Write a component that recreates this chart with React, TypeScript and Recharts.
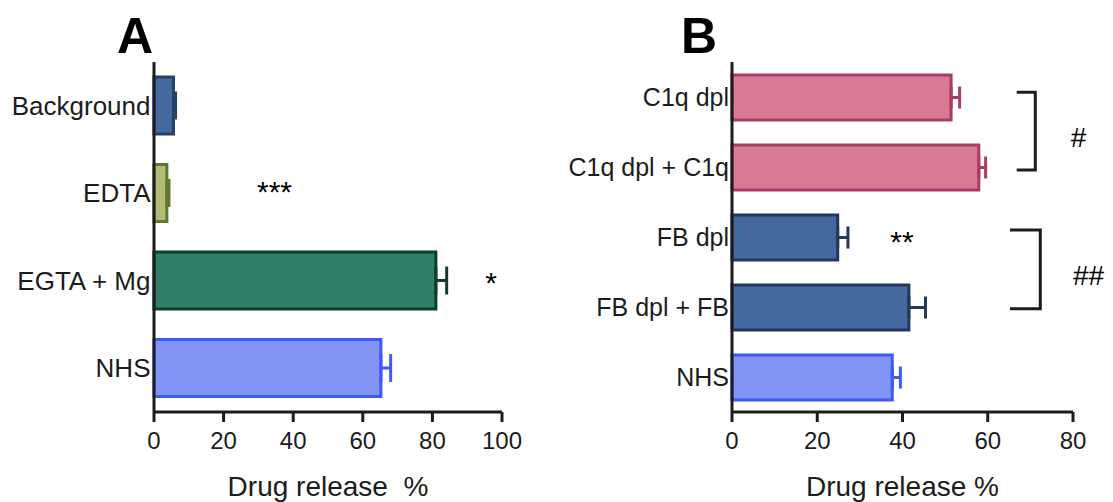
import { BarChart, Bar, XAxis, YAxis, Cell, ErrorBar, Label } from "recharts";

// Panel A
const catsA = ["Background", "EDTA", "EGTA + Mg", "NHS"];
const releaseA = [5.6, 3.7, 81.0, 65.2];
const semA = [0.6, 0.6, 3.1, 2.8];
const ticksA = [0, 20, 40, 60, 80, 100];

// Panel B
const catsB = ["C1q dpl", "C1q dpl + C1q", "FB dpl", "FB dpl + FB", "NHS"];
const releaseB = [51.4, 57.9, 24.8, 41.5, 37.6];
const semB = [2.0, 1.6, 2.4, 3.9, 1.9];
const ticksB = [0, 20, 40, 60, 80];

const fillsA = ["#44699e", "#b3bb74", "#2e8068", "#8193f5"];
const strokesA = ["#25406a", "#5c7a2c", "#0f3d2e", "#3d5af1"];
const fillsB = ["#d87a94", "#d87a94", "#44699e", "#44699e", "#8193f5"];
const strokesB = ["#a63d62", "#a63d62", "#22395d", "#22395d", "#3d5af1"];

const INK = "#1c1c1c";
const FONT = "'Liberation Sans', Arial, sans-serif";

function buildRows(cats: string[], values: number[], errs: number[]) {
  return cats.map((name, i) => ({
    name,
    value: values[i],
    [`err${i}`]: [0, errs[i]],
  }));
}

interface PanelProps {
  cats: string[];
  values: number[];
  errs: number[];
  ticks: number[];
  fills: string[];
  strokes: string[];
  left: number;
  width: number;
  yWidth: number;
  marginRight: number;
  barSize: number;
  capHalf: number;
  catSize: number;
  catMargin: number;
  axisLabel: string;
}

function Panel(p: PanelProps) {
  const data = buildRows(p.cats, p.values, p.errs);
  return (
    <div style={{ position: "absolute", left: p.left, top: 0 }}>
      <BarChart
        width={p.width}
        height={502}
        data={data}
        layout="vertical"
        margin={{ top: 62, right: p.marginRight, bottom: 0, left: 0 }}
      >
        <XAxis
          type="number"
          domain={[0, p.ticks[p.ticks.length - 1]]}
          ticks={p.ticks}
          height={90}
          tickSize={10}
          tickMargin={10}
          axisLine={{ stroke: INK, strokeWidth: 3 }}
          tickLine={{ stroke: INK, strokeWidth: 3 }}
          tick={{ fontSize: 24, fill: INK, fontFamily: FONT }}
        >
          <Label
            value={p.axisLabel}
            position="insideBottom"
            offset={6}
            fontSize={28}
            fill={INK}
            fontFamily={FONT}
          />
        </XAxis>
        <YAxis
          type="category"
          dataKey="name"
          width={p.yWidth}
          tickSize={0}
          tickMargin={p.catMargin}
          tickLine={false}
          axisLine={{ stroke: INK, strokeWidth: 3 }}
          tick={{ fontSize: p.catSize, fill: INK, fontFamily: FONT }}
        />
        <Bar dataKey="value" barSize={p.barSize} isAnimationActive={false}>
          {data.map((_, i) => (
            <Cell key={i} fill={p.fills[i]} stroke={p.strokes[i]} strokeWidth={3} />
          ))}
          {data.map((_, i) => (
            <ErrorBar
              key={`e${i}`}
              dataKey={`err${i}`}
              direction="x"
              width={p.capHalf}
              stroke={p.strokes[i]}
              strokeWidth={3}
              isAnimationActive={false}
            />
          ))}
        </Bar>
      </BarChart>
    </div>
  );
}

export default function App() {
  return (
    <div
      style={{
        position: "fixed",
        left: 0,
        top: 0,
        width: 1113,
        height: 502,
        background: "#fff",
        fontFamily: FONT,
        overflow: "hidden",
      }}
    >
      <Panel
        cats={catsA}
        values={releaseA}
        errs={semA}
        ticks={ticksA}
        fills={fillsA}
        strokes={strokesA}
        left={0}
        width={540}
        yWidth={154}
        marginRight={38}
        barSize={57}
        capHalf={14}
        catSize={26}
        catMargin={3.5}
        axisLabel={"Drug release\u00A0 %"}
      />
      <Panel
        cats={catsB}
        values={releaseB}
        errs={semB}
        ticks={ticksB}
        fills={fillsB}
        strokes={strokesB}
        left={540}
        width={573}
        yWidth={192}
        marginRight={40}
        barSize={45}
        capHalf={11}
        catSize={25}
        catMargin={3}
        axisLabel="Drug release %"
      />
      <svg
        width={1113}
        height={502}
        style={{ position: "absolute", left: 0, top: 0, pointerEvents: "none" }}
        fontFamily={FONT}
        fill={INK}
      >
        <text x={135} y={53} fontSize={50} fontWeight="bold" textAnchor="middle" fill="#000">A</text>
        <text x={699} y={53} fontSize={50} fontWeight="bold" textAnchor="middle" fill="#000">B</text>
        <text x={274.5} y={202} fontSize={30} textAnchor="middle" fill="#000">***</text>
        <text x={491} y={293} fontSize={30} textAnchor="middle" fill="#000">*</text>
        <text x={902} y={252} fontSize={30} textAnchor="middle" fill="#000">**</text>
        <path d="M1016.7 92.3 H1035.3 V170 H1016.7" stroke={INK} strokeWidth={3} fill="none" />
        <path d="M1010 230 H1040.3 V308.7 H1010" stroke={INK} strokeWidth={3} fill="none" />
        <text x={1078.5} y={146.7} fontSize={28} textAnchor="middle" fill="#000">#</text>
        <text x={1073} y={285} fontSize={28} textAnchor="start" fill="#000">##</text>
      </svg>
    </div>
  );
}
